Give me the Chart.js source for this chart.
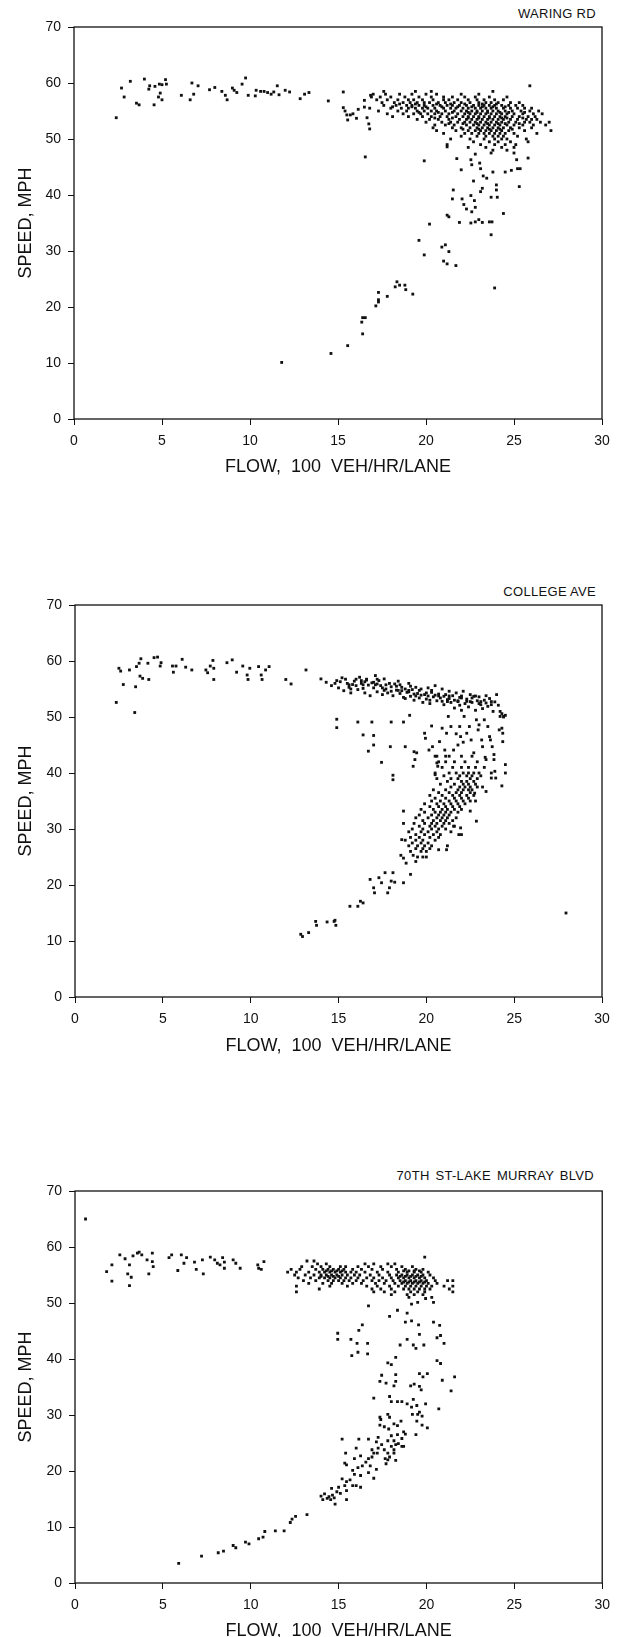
<!DOCTYPE html>
<html>
<head>
<meta charset="utf-8">
<script src="https://cdn.jsdelivr.net/npm/chart.js@4.4.1/dist/chart.umd.min.js"></script>
<style>
  body { margin: 0; background: #fff; overflow: hidden; }
  #page { position: relative; width: 618px; height: 1637px; }
  canvas { position: absolute; left: 0; }
  .site { position: absolute; right: 22px; font: 13px "Liberation Sans", Arial, sans-serif; color: #111; line-height: 14px; letter-spacing: 0.3px; }
</style>
</head>
<body>
<div id="page">
  <div class="site" style="top:7px">WARING RD</div>
  <canvas id="c1"></canvas>
  <div class="site" style="top:585px">COLLEGE AVE</div>
  <canvas id="c2"></canvas>
  <div class="site" style="top:1169px; right:24px; word-spacing:2px">70TH ST-LAKE MURRAY BLVD</div>
  <canvas id="c3"></canvas>
</div>
<script>
// axis ticks and titles
const xTickValues = [0, 5, 10, 15, 20, 25, 30];
const yTickValues = [0, 10, 20, 30, 40, 50, 60, 70];
const xTitle = "FLOW,  100  VEH/HR/LANE";
const yTitle = "SPEED, MPH";

// Waring Rd - single points [flow, speed]
const waringPoints = [
  [2.4,53.8],[2.7,59.1],[2.85,57.5],[3.2,60.3],[3.55,56.4],[3.7,56.1],[4.0,60.7],[4.25,58.9],[4.3,59.5],[4.55,56.1],
  [4.6,59.4],[4.8,57.5],[4.85,59.8],[4.9,58.2],[5.0,57.0],[5.0,59.7],[5.2,60.6],[5.25,59.8],[6.1,57.8],[6.6,57.0],
  [6.7,60.0],[6.8,58.0],[7.05,59.5],[7.7,58.8],[8.0,59.2],[8.4,58.5],[8.6,57.8],[8.7,57.0],[9.0,59.1],[9.1,58.7],
  [9.25,58.3],[9.55,59.8],[9.75,60.9],[9.9,57.8],[10.3,57.7],[10.35,58.7],[10.6,58.5],[10.8,58.5],[11.0,58.3],[11.2,58.0],
  [11.35,58.4],[11.55,59.5],[11.65,57.9],[12.0,58.7],[12.25,58.4],[12.85,57.2],[13.1,58.0],[13.35,58.3],[14.45,56.8],[15.3,58.4],
  [15.3,55.6],[15.4,55.0],[15.5,54.3],[15.55,53.4],[15.7,54.3],[15.85,54.5],[16.05,53.7],[16.15,55.3],[16.5,56.9],[16.5,55.7],
  [16.55,46.8],[16.65,53.8],[16.75,52.7],[16.8,51.8],[16.85,57.8],
  [19.9,46.1],[21.2,48.6],[21.75,46.5],[22.0,44.5],[22.55,46.3],[22.6,45.4],[22.8,47.3],[22.7,42.5],[23.05,45.7],[23.1,44.7],
  [23.25,43.4],[23.45,43.0],[23.8,44.1],[24.0,41.8],[24.0,40.9],[24.5,44.1],[24.85,44.4],[25.15,46.3],[25.2,44.7],[25.3,41.5],
  [25.35,44.7],[25.8,46.6],[21.55,40.9],[21.5,39.3],[22.05,39.3],[22.15,38.3],[22.3,37.5],[22.55,39.9],[22.75,39.0],[22.8,37.8],
  [22.6,37.0],[23.1,40.6],[23.2,41.2],[23.7,39.6],[24.05,39.6],[21.2,36.4],[21.3,36.1],[21.9,35.1],[22.55,35.0],[22.8,35.2],
  [23.0,35.6],[23.2,35.1],[23.6,35.2],[23.75,35.2],[23.7,32.9],[24.4,36.7],[20.2,34.8],[19.6,31.9],[19.9,29.3],[20.9,30.7],
  [21.1,31.1],[21.3,29.9],[21.0,28.2],[21.2,27.7],[21.7,27.4],[23.9,23.4],[18.35,24.5],[18.5,23.9],[18.25,23.6],[18.8,23.9],
  [18.85,23.1],[19.25,22.3],[17.8,21.9],[17.3,22.6],[17.3,21.3],[17.3,20.9],[17.15,20.2],[16.4,18.1],[16.55,18.1],[16.35,17.3],
  [16.4,15.2],[15.55,13.1],[14.6,11.7],[11.8,10.1],[25.9,59.5]
];

// Waring Rd - dense cluster, rows of [speed, flows]
const waringCluster = [
  [58.5, [17.6,19.4,20.3,23.8]],
  [58.0, [17.0,17.7,18.5,19.2,20.0,20.6,22.0,23.0]],
  [57.5, [16.9,17.4,18.0,18.8,19.6,20.3,21.0,21.5,22.2,22.8,23.6,24.6]],
  [57.0, [17.2,17.8,18.4,19.0,19.3,19.8,20.4,21.0,21.3,21.8,22.4,22.9,23.3,23.9,24.4]],
  [56.5, [17.5,18.2,18.7,19.1,19.5,19.9,20.2,20.7,21.1,21.6,22.0,22.5,23.0,23.4,23.7,24.1,24.8,25.3]],
  [56.25, [18.5,19.4,20.6,21.4,22.2,23.2,24.0]],
  [56.0, [17.6,18.3,18.9,19.2,19.6,19.9,20.4,20.8,21.2,21.5,21.9,22.3,22.7,23.0,23.3,23.6,23.9,24.3,24.7,25.1,25.5]],
  [55.75, [18.1,19.2,20.0,20.9,21.8,22.6,23.2,23.8,24.5]],
  [55.5, [16.8,18.0,18.6,19.0,19.4,19.8,20.1,20.5,21.0,21.4,21.7,22.1,22.4,22.8,23.1,23.4,23.7,24.0,24.4,24.8,25.2,25.6,26.0]],
  [55.0, [17.3,18.4,18.9,19.5,19.9,20.3,20.6,21.1,21.6,22.0,22.3,22.6,22.9,23.2,23.5,23.8,24.1,24.5,24.9,25.4,25.9,26.4]],
  [54.75, [19.6,20.7,21.5,22.4,22.9,23.5,24.2,24.7,25.6]],
  [54.5, [17.8,18.7,19.3,19.7,20.1,20.5,20.9,21.3,21.8,22.2,22.5,22.8,23.1,23.4,23.7,24.0,24.3,24.6,25.0,25.5,26.1,26.6]],
  [54.0, [18.1,19.0,19.8,20.3,20.8,21.2,21.7,22.1,22.4,22.7,23.0,23.3,23.6,23.9,24.2,24.5,24.9,25.3,25.8,26.2]],
  [53.75, [20.5,21.5,22.4,23.0,23.6,24.3,24.6,25.5]],
  [53.5, [19.5,20.2,20.7,21.3,21.9,22.3,22.6,22.9,23.2,23.5,23.8,24.1,24.4,24.8,25.2,25.7,26.0,26.3]],
  [53.0, [20.0,20.9,21.4,21.8,22.2,22.5,22.8,23.1,23.4,23.7,24.0,24.3,24.7,25.1,25.6,25.9,26.5,27.0]],
  [52.75, [21.3,22.1,22.9,23.5,24.1,24.5,25.3]],
  [52.5, [20.5,21.1,21.6,22.3,22.7,23.0,23.3,23.6,23.9,24.2,24.6,25.0,25.5,26.1,26.8]],
  [52.0, [20.4,21.5,22.0,22.5,22.9,23.2,23.5,23.8,24.1,24.4,24.8,25.3,26.0]],
  [51.75, [22.1,23.0,23.6,24.2,24.9]],
  [51.5, [20.6,21.7,22.4,22.8,23.1,23.4,23.7,24.0,24.3,24.7,25.6,27.1]],
  [51.0, [21.0,22.2,22.6,23.0,23.3,23.6,23.9,24.2,24.5,25.0,26.3]],
  [50.5, [22.0,22.9,23.4,23.8,24.1,24.4,25.2]],
  [50.0, [21.4,22.5,23.3,23.9,24.3,24.6,25.7]],
  [49.5, [22.7,23.6,24.1,24.8,25.8]],
  [49.0, [21.2,23.1,23.9,24.5,25.1]],
  [48.5, [22.4,23.4,24.3,25.0]],
  [48.0, [23.8,24.6]],
  [47.5, [23.7,25.0]]
];

// College Ave - single points [flow, speed]
const collegePoints = [
  [2.35,52.6],[2.5,58.7],[2.6,58.2],[2.75,55.8],[3.1,58.4],[3.4,50.8],[3.45,55.4],[3.5,59.0],[3.65,59.6],[3.7,57.3],
  [3.75,60.4],[3.85,56.9],[4.15,59.6],[4.2,56.7],[4.5,60.6],[4.7,60.7],[4.85,59.1],[4.9,59.7],[5.55,59.1],[5.6,58.0],
  [5.75,59.1],[6.1,60.3],[6.3,58.9],[6.65,58.4],[7.45,58.4],[7.55,57.9],[7.7,59.1],[7.85,60.1],[7.9,58.7],[7.9,56.7],
  [8.65,59.7],[8.95,60.2],[9.2,58.0],[9.55,59.1],[9.8,57.5],[9.85,56.7],[9.95,58.7],[10.45,59.0],[10.6,57.5],[10.65,56.7],
  [10.85,58.4],[11.05,59.0],[12.0,56.7],[12.3,55.9],[13.15,58.4],
  [14.0,56.8],[14.3,56.2],[14.6,55.6],[14.9,56.5],[15.0,55.2],[15.2,57.0],[15.3,54.7],[15.5,56.0],[15.6,55.3],[15.7,54.3],
  [15.9,56.4],[16.0,55.6],[16.1,54.9],[16.2,57.1],[16.3,56.0],[16.4,55.1],[16.5,54.3],[16.6,56.6],[16.7,55.7],[16.8,53.8],
  [16.9,56.1],[17.0,55.2],[17.1,57.4],[17.2,54.5],[17.3,56.5],[17.4,55.6],[17.5,54.0],[17.6,56.8],[17.7,55.0],[17.8,54.3],
  [17.9,56.0],[18.0,55.4],[18.1,53.8],[18.2,55.9],[18.3,54.8],[18.4,56.4],[18.5,54.2],[18.6,55.3],[18.7,53.5],[18.8,55.0],
  [18.9,54.4],[19.0,56.0],[19.1,53.7],[19.2,54.9],[19.3,53.0],[19.4,55.3],[19.5,54.2],[19.6,53.4],[19.7,55.0],[19.8,52.6],
  [19.9,54.0],[20.0,53.2],[20.1,55.2],[20.2,52.4],[20.3,54.4],[20.4,53.6],[20.5,55.6],[20.6,52.9],[20.7,54.1],[20.8,53.4],
  [20.9,55.0],[21.0,52.2],[21.1,54.0],[21.2,53.1],[21.3,54.6],[21.4,52.6],[21.5,53.8],[21.6,51.6],[21.7,54.3],[21.8,52.9],
  [21.9,53.5],[22.0,51.2],[22.1,54.6],[22.2,52.4],[22.3,53.2],[22.4,51.8],[22.5,54.0],[22.6,52.6],[22.7,53.7],[22.8,51.2],
  [22.9,52.9],[23.0,53.6],[23.1,52.2],[23.2,51.5],[23.3,53.0],[23.4,52.5],[23.5,51.9],[23.6,53.3],[23.7,52.2],[23.8,51.0],
  [23.9,52.7],[24.0,54.0],[24.1,52.1],[24.2,51.0],[24.3,50.6],[24.4,50.0],[24.5,50.3],
  [15.1,56.3],[15.8,55.8],[16.5,56.3],[17.0,56.2],[17.5,55.2],[18.0,54.6],[18.3,55.5],[18.6,54.7],[19.0,54.5],[19.3,54.1],
  [19.7,53.9],[20.0,54.3],[20.5,53.9],[21.0,53.7],[21.3,53.3],[21.6,53.0],[22.0,53.4],[22.3,52.8],[22.6,53.4],[23.0,52.4],
  [23.4,53.8],[20.2,53.0],[20.9,52.8],[21.9,52.1],[18.8,53.3],[19.1,55.5],[17.2,55.9],[16.3,56.5],[15.7,55.0],[14.8,56.0],
  [14.9,49.6],[14.9,48.1],[16.1,49.1],[16.4,46.8],[16.9,49.1],[17.0,46.7],[17.0,45.0],[16.7,43.9],[17.45,41.9],[18.0,49.1],
  [17.95,44.7],[18.1,39.6],[18.1,38.8],[18.7,49.1],[18.8,44.7],[19.05,50.3],[19.25,41.2],[19.3,43.8],[19.45,43.6],[19.35,42.4],
  [19.9,47.1],[19.95,46.2],[20.15,44.1],[20.3,48.4],[20.35,44.7],[20.6,43.0],[20.6,41.8],[20.65,41.2],[20.5,39.7],[20.75,45.6],
  [20.9,48.0],[21.05,44.1],[21.1,43.0],[21.15,47.1],[21.25,50.1],[21.4,48.3],[21.55,44.1],[21.7,47.0],[21.8,45.0],[21.9,48.3],
  [21.95,46.5],[22.1,45.5],[22.15,50.1],[22.3,47.1],[22.45,48.3],[22.55,45.9],[22.7,43.6],[22.85,49.5],[22.95,47.7],[23.0,48.6],
  [23.15,45.9],[23.2,44.7],[23.35,42.8],[23.4,42.4],[23.6,46.5],[23.65,45.9],[23.75,44.7],[23.85,43.3],[23.5,48.3],[23.3,49.5],
  [23.85,42.4],[23.9,40.3],[23.95,39.1],[24.2,50.1],[24.3,48.0],[24.35,47.1],[24.35,45.6],[24.15,47.7],[24.4,50.1],[24.5,41.5],
  [24.5,40.0],[24.3,37.7],[23.7,40.0],[23.7,39.1],[22.75,36.4],[22.85,31.4],[23.4,36.7],
  [18.7,33.2],[18.7,31.0],[18.6,28.1],[18.55,25.3],[18.85,23.9],[19.1,21.9],[19.25,25.3],[19.4,24.2],[20.7,26.3],[21.15,26.3],
  [21.85,29.0],[21.95,30.2],[21.55,30.5],[22.5,33.2],
  [16.8,21.0],[17.0,19.5],[17.05,18.6],[17.3,21.3],[17.45,20.4],[17.65,22.2],[17.8,18.6],[17.9,19.5],[18.0,20.7],[18.1,22.2],
  [18.2,20.5],[18.7,20.4],[15.65,16.2],[16.1,16.2],[16.25,17.1],[16.4,16.8],[12.85,11.2],[12.95,10.8],[13.3,11.5],[13.7,13.5],
  [13.75,12.8],[14.35,13.4],[14.75,13.5],[14.85,12.8],[14.8,13.7],[27.95,15.0]
];

// College Ave - thicker parts of the upper band, rows of [speed, flows]
const collegeBand = [
  [56.75, [15.4,16.0,16.6,17.2]],
  [55.75, [15.6,16.4,17.1,17.7,18.5]],
  [54.75, [17.6,18.4,19.0,19.6,20.3]],
  [53.75, [19.4,20.1,20.7,21.3,22.0,22.8]],
  [52.75, [21.2,21.8,22.5,23.1,23.7]]
];

// College Ave - congested branch, rows of [speed, flows]
const collegeBranch = [
  [43.0, [20.5,21.3,22.0,22.6]],
  [42.0, [20.7,21.1,21.6,22.2,22.9]],
  [41.0, [20.9,21.5,22.0,22.4,22.8,23.3]],
  [40.0, [20.5,21.3,21.7,22.1,22.4,22.7,23.0]],
  [39.5, [21.0,21.9,22.3,22.6,23.1]],
  [39.0, [20.6,21.4,21.8,22.5,22.9]],
  [38.5, [21.2,22.0,22.3,22.7]],
  [38.0, [20.8,21.6,22.1,22.4,22.8]],
  [37.5, [21.4,21.9,22.2,22.5,22.9,23.2]],
  [37.0, [20.4,21.1,21.8,22.1,22.4,22.6]],
  [36.5, [20.7,21.3,21.7,22.0,22.5]],
  [36.0, [20.2,20.9,21.5,21.9,22.3,22.7]],
  [35.5, [20.5,21.1,21.6,22.0,22.4]],
  [35.0, [20.3,20.8,21.3,21.7,22.1,22.5,22.8]],
  [34.5, [19.9,20.6,21.0,21.4,21.8,22.2]],
  [34.0, [20.2,20.7,21.1,21.5,21.9]],
  [33.5, [19.7,20.4,20.9,21.2,21.6,22.0]],
  [33.0, [19.9,20.5,20.8,21.1,21.4,21.8]],
  [32.5, [19.6,20.3,20.7,21.0,21.3]],
  [32.0, [19.4,20.1,20.6,20.9,21.2,21.7]],
  [31.5, [19.8,20.4,20.8,21.1,21.5]],
  [31.0, [19.3,19.9,20.3,20.6,21.0,21.3]],
  [30.5, [19.6,20.2,20.5,20.9,21.6]],
  [30.0, [19.2,19.8,20.3,20.7,21.1]],
  [29.5, [19.0,19.7,20.1,20.6,21.4]],
  [29.0, [19.4,19.9,20.4,20.8,22.0]],
  [28.5, [19.1,19.6,20.2,20.7]],
  [28.0, [18.8,19.4,19.8,20.5]],
  [27.5, [19.2,19.7,20.1]],
  [27.0, [19.0,19.5,19.9,20.3,21.2]],
  [26.5, [19.4,19.8,20.2]],
  [26.0, [19.1,19.7,20.0]],
  [25.0, [19.5,19.8,20.0]],
  [24.8, [18.7]]
];

// 70th St-Lake Murray Blvd - single points [flow, speed]
const lakePoints = [
  [0.6,65.0],[1.8,55.6],[2.1,56.8],[2.1,53.9],[2.55,58.6],[2.85,57.9],[3.0,55.2],[3.1,56.8],[3.1,53.1],[3.2,54.6],
  [3.3,58.4],[3.55,58.9],[3.65,59.1],[3.8,58.6],[4.1,57.7],[4.2,55.2],[4.4,58.9],[4.4,57.4],[4.45,56.5],[5.35,58.1],
  [5.5,58.6],[5.85,55.8],[6.05,58.6],[6.2,57.1],[6.35,58.1],[6.8,57.3],[6.9,56.0],[7.25,57.7],[7.3,55.2],[7.7,58.2],
  [7.95,57.7],[8.1,57.1],[8.25,56.8],[8.4,58.1],[8.5,56.2],[8.5,57.3],[9.0,57.7],[9.15,57.1],[9.4,56.2],[10.4,56.8],
  [10.45,56.2],[10.6,56.0],[10.75,57.4],[19.9,58.2],
  [16.7,49.5],[17.9,47.6],[18.35,48.7],[19.15,49.8],[19.5,50.1],[19.95,50.8],[20.4,50.1],[18.9,48.2],
  [16.35,46.1],[16.15,45.1],[14.95,44.6],[14.95,43.5],[15.7,43.5],[16.05,42.8],[16.65,42.8],[16.1,41.2],[15.75,40.6],[16.65,40.9],
  [18.8,46.6],[19.15,46.8],[19.55,46.1],[19.6,44.4],[19.25,42.5],[19.4,41.9],[20.4,46.6],[20.75,46.0],[20.6,43.8],[20.8,44.2],
  [21.0,42.8],[18.5,42.5],[18.9,43.5],[19.85,42.5],[20.6,39.7],[20.8,39.2],[21.6,36.8],[21.4,34.3],[20.9,36.2],[20.7,31.1],
  [18.25,40.3],[17.8,39.3],[18.0,39.0],[17.45,37.1],[17.35,36.0],[17.7,35.7],[18.25,37.2],[18.15,35.2],[18.25,36.0],[19.1,35.2],
  [19.3,35.5],[19.6,37.4],[19.8,36.8],[19.6,35.1],[19.7,34.5],[20.05,37.4],[17.0,33.0],[17.9,33.3],[18.0,32.4],[18.35,32.4],
  [18.6,32.4],[18.9,32.0],[19.25,32.8],[19.45,31.7],[19.6,30.5],[19.95,32.0],[19.75,29.8],[19.5,30.1],[19.15,31.4],[19.2,30.1],
  [20.05,27.7],[19.75,28.2],[19.4,26.5],[19.45,28.9],[17.35,29.6],[17.4,29.2],[17.8,30.1],[17.9,29.6],[17.6,27.9],[17.35,28.2],
  [17.85,27.5],[18.15,28.4],[18.35,28.1],[18.55,28.9],[18.7,27.0],[18.6,25.8],[18.8,26.6],[18.35,26.5],[18.0,26.3],[18.15,25.4],
  [17.8,25.4],[17.25,26.0],[17.15,25.2],[17.45,24.7],[18.25,24.7],[18.6,24.4],[18.15,23.8],[17.9,22.5],[17.65,22.2],[17.7,21.3],
  [17.25,24.1],[16.9,23.8],[17.0,23.2],[16.9,22.5],[16.7,22.2],[16.55,21.6],[16.35,20.9],[16.8,20.9],[17.15,20.3],[17.0,18.7],
  [16.7,19.7],[16.0,24.1],[15.2,25.7],[15.4,23.2],[16.15,25.7],[16.7,25.7],[15.9,22.2],[16.25,22.7],[15.35,21.4],[15.45,21.1],
  [15.8,20.1],[16.1,20.6],[16.25,19.2],[15.9,19.4],[15.65,18.4],[15.45,18.1],[15.2,18.6],[15.8,17.4],[16.0,17.4],[16.25,17.1],
  [15.35,17.4],[15.0,17.1],[14.9,16.3],[15.45,16.5],[15.1,16.0],[14.65,15.7],[14.45,15.4],[14.2,15.9],[14.0,15.5],[14.1,14.9],
  [14.55,14.9],[14.75,15.2],[14.8,14.1],[15.45,14.9],[14.35,15.1],[14.6,16.9],
  [17.6,23.8],[17.8,23.2],[18.0,24.4],[18.4,24.9],[18.7,24.4],[18.15,23.2],[17.8,22.0],[18.25,21.9],[17.2,23.2],
  [5.9,3.5],[7.2,4.8],[8.15,5.4],[8.45,5.7],[9.0,6.7],[9.15,6.3],[9.7,7.3],[9.9,7.0],[10.45,7.9],[10.7,8.2],
  [10.8,9.2],[11.4,9.3],[11.9,9.3],[12.25,10.8],[12.35,11.4],[12.55,11.9],[13.2,12.2]
];

// 70th St-Lake Murray Blvd - dense upper band, rows of [speed, flows]
const lakeBand = [
  [57.5, [13.2,13.6]],
  [57.0, [13.8,14.3,16.5,17.0,17.8,18.2]],
  [56.5, [12.9,13.5,14.0,14.5,15.1,15.4,16.1,16.7,17.4,18.0,18.6,19.2]],
  [56.0, [12.3,12.8,13.7,14.1,14.4,14.7,15.0,15.3,15.8,16.3,16.9,17.5,18.3,18.8,19.4,19.8]],
  [55.75, [14.3,14.6,14.9,15.2,18.7,19.0,19.3,19.6]],
  [55.5, [12.1,12.6,13.3,13.9,14.2,14.5,14.8,15.1,15.4,15.7,16.0,16.5,17.2,17.8,18.4,18.9,19.3,19.7,20.1]],
  [55.0, [12.5,13.1,13.6,14.0,14.3,14.6,14.9,15.2,15.5,15.9,16.2,16.8,17.3,17.9,18.3,18.6,18.9,19.2,19.5,19.8,20.2]],
  [54.75, [14.0,14.4,14.7,15.0,18.5,18.8,19.1,19.4,19.7]],
  [54.5, [12.7,13.4,13.9,14.2,14.5,14.8,15.1,15.4,15.7,16.1,16.6,17.0,17.5,18.0,18.4,18.7,19.0,19.3,19.6,19.9,20.4]],
  [54.0, [13.0,13.7,14.4,14.7,15.0,15.3,15.6,16.0,16.4,16.9,17.3,17.7,18.1,18.5,18.8,19.1,19.4,19.7,20.0,20.5,21.2,21.5]],
  [53.75, [18.7,19.0,19.3,19.6,19.9]],
  [53.5, [13.3,14.1,14.6,15.2,15.8,16.3,17.1,17.6,18.2,18.6,18.9,19.2,19.5,19.8,20.1,20.6]],
  [53.0, [12.6,14.5,15.5,16.6,17.2,17.9,18.4,18.8,19.1,19.4,19.7,20.0,20.3,21.0,21.5]],
  [52.5, [13.9,16.9,17.4,18.0,18.7,19.0,19.3,19.6,19.9,20.2,21.3]],
  [52.0, [12.6,17.0,17.6,18.2,19.1,19.5,19.9,21.5]],
  [51.5, [18.0,18.9,19.3,19.8]],
  [51.0, [19.0,20.3]]
];

function toXY(points, ...rowSets) {
  const out = points.map(p => ({ x: p[0], y: p[1] }));
  rowSets.forEach(rows => rows.forEach(r => r[1].forEach(f => out.push({ x: f, y: r[0] }))));
  return out;
}

// draws the closed frame round the plot
const framePlugin = {
  id: "frame",
  afterDraw(chart) {
    const a = chart.chartArea;
    const ctx = chart.ctx;
    ctx.save();
    ctx.strokeStyle = "#111";
    ctx.lineWidth = 1.3;
    ctx.strokeRect(a.left, a.top, a.right - a.left, a.bottom - a.top);
    ctx.restore();
  },
};

const fontName = "'Liberation Sans', Arial, sans-serif";

function makePanel(id, data, box) {
  const canvas = document.getElementById(id);
  const h = box.titleY - box.canvasTop + 14;
  canvas.width = 618;
  canvas.height = h;
  canvas.style.top = box.canvasTop + "px";
  canvas.style.width = "618px";
  canvas.style.height = h + "px";

  new Chart(canvas.getContext("2d"), {
    type: "scatter",
    data: {
      datasets: [{
        data: data,
        pointStyle: "rect",
        pointRadius: 2,
        borderWidth: 0,
        backgroundColor: "#111",
      }],
    },
    options: {
      responsive: false,
      animation: false,
      events: [],
      layout: {
        padding: { top: box.top - box.canvasTop, right: 618 - box.right, bottom: 0, left: 0 },
      },
      plugins: { legend: { display: false }, tooltip: { enabled: false } },
      scales: {
        x: {
          type: "linear",
          min: 0,
          max: 30,
          afterBuildTicks: (s) => { s.ticks = xTickValues.map(v => ({ value: v })); },
          afterFit: (s) => { s.height = h - (box.bottom - box.canvasTop); },
          ticks: { color: "#111", font: { family: fontName, size: 14 }, padding: 8, maxRotation: 0 },
          grid: { drawOnChartArea: false, drawTicks: true, tickLength: 6, color: "#111" },
          border: { display: false },
          title: { display: true, text: xTitle, color: "#111", font: { family: fontName, size: 18 }, padding: { top: 0, bottom: 4 } },
        },
        y: {
          type: "linear",
          min: 0,
          max: 70,
          afterBuildTicks: (s) => { s.ticks = yTickValues.map(v => ({ value: v })); },
          afterFit: (s) => { s.width = box.left; },
          ticks: { color: "#111", font: { family: fontName, size: 14 }, padding: 7 },
          grid: { drawOnChartArea: false, drawTicks: true, tickLength: 6, color: "#111" },
          border: { display: false },
          title: { display: true, text: yTitle, color: "#111", font: { family: fontName, size: 18 }, padding: { top: 15, bottom: 0 } },
        },
      },
    },
    plugins: [framePlugin],
  });
}

makePanel("c1", toXY(waringPoints, waringCluster),
  { canvasTop: 0, top: 27, bottom: 419, left: 74, right: 602, titleY: 468 });
makePanel("c2", toXY(collegePoints, collegeBand, collegeBranch),
  { canvasTop: 560, top: 605, bottom: 997, left: 75, right: 602, titleY: 1047 });
makePanel("c3", toXY(lakePoints, lakeBand),
  { canvasTop: 1120, top: 1191, bottom: 1583, left: 75, right: 603, titleY: 1632 });
</script>
</body>
</html>
